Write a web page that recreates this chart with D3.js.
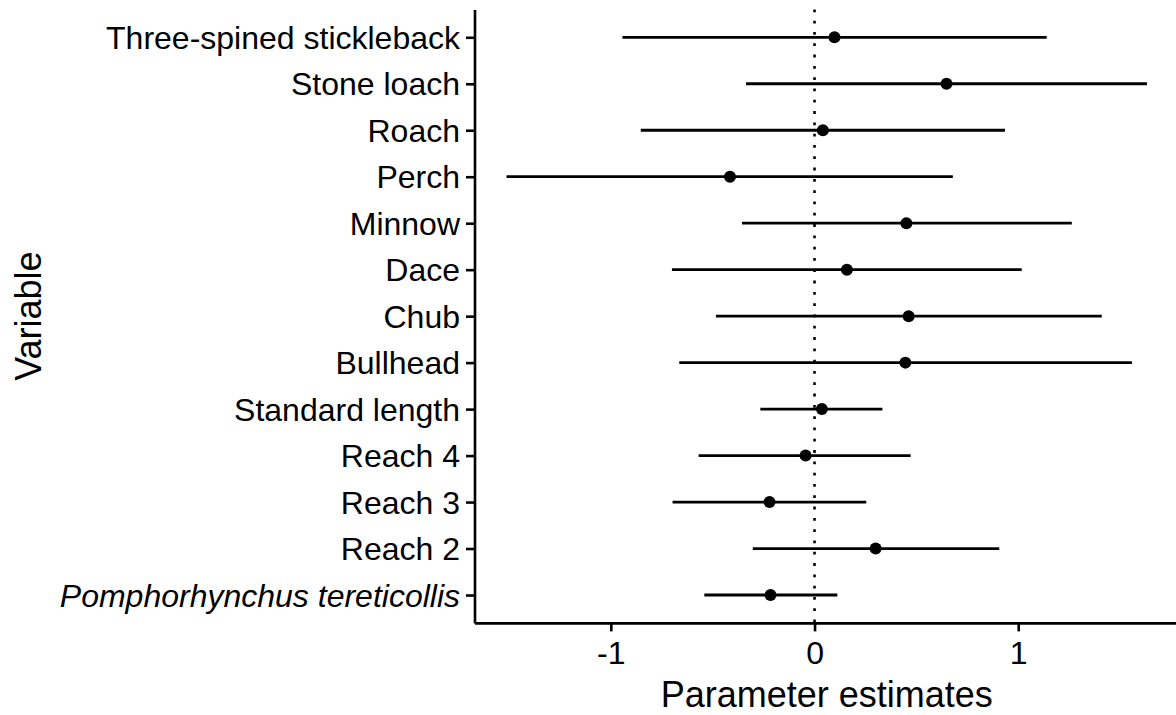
<!DOCTYPE html>
<html>
<head>
<meta charset="utf-8">
<script src="https://cdn.jsdelivr.net/npm/d3@7"></script>
<style>
  html, body { margin: 0; padding: 0; background: #fff; }
  svg { display: block; font-family: "Liberation Sans", Arial, Helvetica, sans-serif; }
</style>
</head>
<body>
<svg id="chart" width="1176" height="715"></svg>
<script>
// Model terms, listed top to bottom
const variables = [
  "Three-spined stickleback", "Stone loach", "Roach", "Perch", "Minnow",
  "Dace", "Chub", "Bullhead", "Standard length", "Reach 4", "Reach 3",
  "Reach 2", "Pomphorhynchus tereticollis"
];
// Parameter estimates with lower / upper interval bounds
const estimate = [0.098, 0.648, 0.041, -0.415, 0.451, 0.159, 0.462, 0.446, 0.036, -0.044, -0.221, 0.300, -0.216];
const lower    = [-0.943, -0.336, -0.853, -1.512, -0.356, -0.700, -0.484, -0.664, -0.266, -0.569, -0.697, -0.303, -0.541];
const upper    = [1.140, 1.632, 0.935, 0.679, 1.263, 1.017, 1.410, 1.558, 0.333, 0.472, 0.254, 0.907, 0.112];
const xTicks   = [-1, 0, 1];
const italicTerms = ["Pomphorhynchus tereticollis"];

const rows = variables.map((v, i) => ({ v, est: estimate[i], lo: lower[i], hi: upper[i] }));

const svg = d3.select("#chart");
const panel = { left: 474.5, right: 1179, top: 9.4, bottom: 622.9 };

// Continuous x with 5% expansion on each side
const lo = d3.min(lower), hi = d3.max(upper);
const pad = (hi - lo) * 0.05;
const x = d3.scaleLinear().domain([lo - pad, hi + pad]).range([panel.left, panel.right]);

// Discrete y with 0.6-step expansion at each end
const y = d3.scalePoint().domain(variables).range([panel.top, panel.bottom]).padding(0.6);

const lineW = 2.6;

// Reference line at zero
svg.append("line")
  .attr("x1", x(0)).attr("x2", x(0))
  .attr("y1", panel.top).attr("y2", panel.bottom)
  .attr("stroke", "#000").attr("stroke-width", 2.6)
  .attr("stroke-dasharray", "2.8 8.5");

// Interval lines
svg.append("g").selectAll("line").data(rows).join("line")
  .attr("x1", d => x(d.lo)).attr("x2", d => x(d.hi))
  .attr("y1", d => y(d.v)).attr("y2", d => y(d.v))
  .attr("stroke", "#000").attr("stroke-width", 2.8);

// Point estimates
svg.append("g").selectAll("circle").data(rows).join("circle")
  .attr("cx", d => x(d.est)).attr("cy", d => y(d.v))
  .attr("r", 6).attr("fill", "#000");

// Axes
const yAxis = svg.append("g")
  .attr("transform", `translate(${panel.left},0)`)
  .call(d3.axisLeft(y).tickSize(8.5).tickSizeOuter(0).tickPadding(6));
const xAxis = svg.append("g")
  .attr("transform", `translate(0,${panel.bottom})`)
  .call(d3.axisBottom(x).tickValues(xTicks).tickFormat(d => String(d)).tickSize(8.5).tickSizeOuter(0).tickPadding(10));

[yAxis, xAxis].forEach(g => {
  g.select(".domain").attr("stroke", "#000").attr("stroke-width", lineW);
  g.selectAll(".tick line").attr("stroke", "#000").attr("stroke-width", lineW);
  g.selectAll(".tick text").attr("fill", "#000").attr("font-size", 32)
    .attr("font-family", "Liberation Sans, Arial, sans-serif");
});
yAxis.selectAll(".tick text")
  .attr("dy", "0.35em")
  .attr("font-style", d => italicTerms.includes(d) ? "italic" : "normal");

// Axis titles
svg.append("text")
  .attr("x", (panel.left + panel.right) / 2).attr("y", 707)
  .attr("text-anchor", "middle").attr("font-size", 36).attr("fill", "#000")
  .text("Parameter estimates");
svg.append("text")
  .attr("transform", `translate(40.5,${(panel.top + panel.bottom) / 2}) rotate(-90)`)
  .attr("text-anchor", "middle").attr("font-size", 36).attr("fill", "#000")
  .text("Variable");
</script>
</body>
</html>
